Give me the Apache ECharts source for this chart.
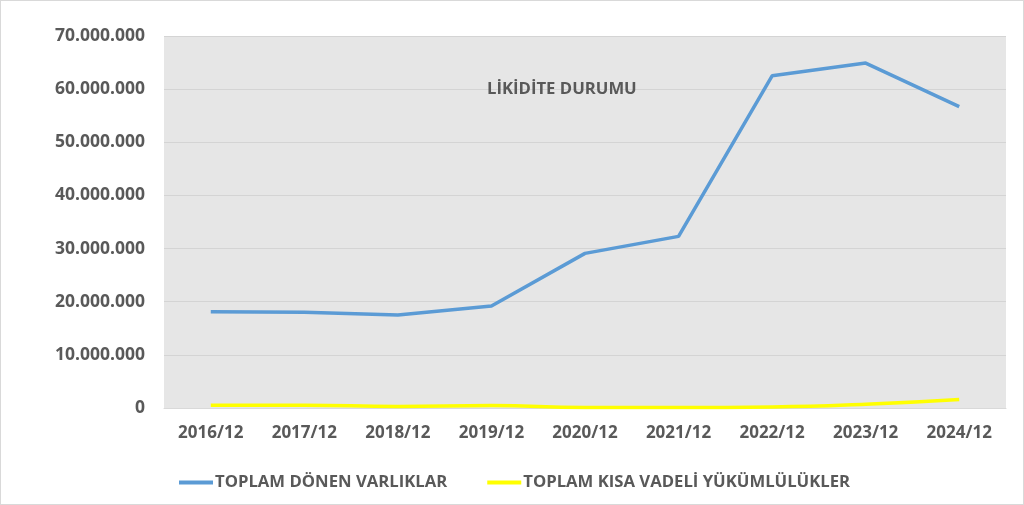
<!DOCTYPE html>
<html>
<head>
<meta charset="utf-8">
<script src="https://cdn.jsdelivr.net/npm/echarts@6/dist/echarts.min.js"></script>
<style>
html, body { margin: 0; padding: 0; background: #fff; }
#chart { position: absolute; left: 0; top: 0; width: 1022px; height: 503px; border: 1px solid #d9d9d9; }
</style>
</head>
<body>
<div id="chart"></div>
<script>
var categories = ['2016/12', '2017/12', '2018/12', '2019/12', '2020/12', '2021/12', '2022/12', '2023/12', '2024/12'];
var donenVarliklar = [18100000, 18000000, 17500000, 19200000, 29100000, 32300000, 62500000, 64900000, 56700000];
var kisaVadeli = [500000, 500000, 300000, 450000, 100000, 100000, 200000, 700000, 1600000];
var seriesNames = ['TOPLAM DÖNEN VARLIKLAR', 'TOPLAM KISA VADELİ YÜKÜMLÜLÜKLER'];

function formatNumber(v) {
    return String(v).replace(/\B(?=(\d{3})+(?!\d))/g, '.');
}

var chart = echarts.init(document.getElementById('chart'));
var textColor = '#595959';
var fontFamily = '"Open Sans", "Liberation Sans", sans-serif';

var option = {
    animation: false,
    title: {
        text: 'LİKİDİTE DURUMU',
        left: 481,
        top: 75,
        textStyle: { color: textColor, fontSize: 16.7, fontWeight: 'bold', fontFamily: fontFamily }
    },
    legend: {
        left: 173,
        top: 468,
        itemGap: 40,
        itemWidth: 34,
        itemHeight: 16,
        icon: 'path://M0,6L34,6L34,10L0,10Z',
        textStyle: { color: textColor, fontSize: 16.7, fontWeight: 'bold', fontFamily: fontFamily, padding: [0, 0, 0, -3] },
        data: seriesNames
    },
    grid: {
        left: 163,
        right: 17,
        top: 35,
        bottom: 96,
        show: true,
        backgroundColor: '#e6e6e6',
        borderWidth: 0,
        containLabel: false
    },
    xAxis: {
        type: 'category',
        data: categories,
        boundaryGap: true,
        axisLine: { show: true, lineStyle: { color: '#d9d9d9', width: 1 } },
        axisTick: { show: false },
        axisLabel: { color: textColor, fontSize: 17, fontWeight: 'bold', fontFamily: fontFamily, margin: 17 }
    },
    yAxis: {
        type: 'value',
        min: 0,
        max: 70000000,
        interval: 10000000,
        axisLine: { show: false },
        axisTick: { show: false },
        splitLine: { lineStyle: { color: '#d4d4d4', width: 1 } },
        axisLabel: {
            color: textColor, fontSize: 17.5, fontWeight: 'bold', fontFamily: fontFamily, margin: 19,
            formatter: formatNumber
        }
    },
    series: [
        {
            name: seriesNames[0],
            type: 'line',
            data: donenVarliklar,
            showSymbol: false,
            lineStyle: { color: '#5b9bd5', width: 3.5 },
            itemStyle: { color: '#5b9bd5' }
        },
        {
            name: seriesNames[1],
            type: 'line',
            data: kisaVadeli,
            smooth: true,
            showSymbol: false,
            lineStyle: { color: '#ffff00', width: 3.5 },
            itemStyle: { color: '#ffff00' }
        }
    ]
};
chart.setOption(option);
</script>
</body>
</html>
